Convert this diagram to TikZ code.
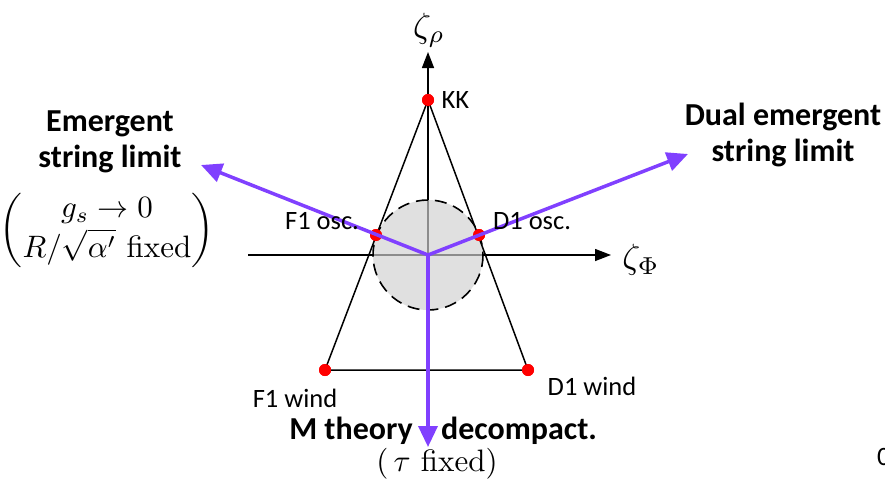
\documentclass[tikz,border=0pt]{standalone}
\usepackage{amsmath}
\usepackage{fontspec}
\setsansfont{Carlito}
\usetikzlibrary{arrows.meta}
\definecolor{limitviolet}{RGB}{128,64,255}
\tikzset{
  dot/.style={circle, fill=red, inner sep=0pt, minimum size=12pt},
  limit/.style={limitviolet, line width=3.5pt, -{Triangle[length=21pt,width=19pt]}},
  axis/.style={line width=1.4pt, -{Triangle[length=16pt,width=12pt]}},
  lbl/.style={font=\sffamily\fontsize{26.5}{30}\selectfont},
  bigtitle/.style={font=\sffamily\bfseries\fontsize{32}{36}\selectfont, align=center, inner sep=0pt},
  mathlbl/.style={scale=3.1, inner sep=0pt},
  axislbl/.style={scale=3.5},
}
\begin{document}
\begin{tikzpicture}[x=1pt, y=-1pt]
    \useasboundingbox (0,0) rectangle (885,479);

    % Ursprung und Punkte
    \coordinate (O) at (428,255);
    \node[dot] (KK) at (428,100) {};
    \node[dot] (F1osc) at (376,235) {};
    \node[dot] (D1osc) at (479,235) {};
    \node[dot] (F1wind) at (325,370) {};
    \node[dot] (D1wind) at (528,370) {};

    % Achsen
    \draw[axis] (248,255) -- (611,255) coordinate (xtip);
    \draw[axis] (O) -- (428,52) coordinate (ytip);
    \node[axislbl] (zPhi) at (641,260) {$\zeta_\Phi$};
    \node[axislbl] (zrho) at (429,30) {$\zeta_\rho$};

    % Kreis
    \draw[line width=1.6pt, dash pattern=on 12pt off 7pt, fill=black!18, fill opacity=0.67] (O) circle[radius=55];

    % Dreieck
    \draw[line width=1.5pt] (KK.center) -- (F1wind.center) -- (D1wind.center) -- cycle;
    \node[dot] at (KK) {};
    \node[dot] at (F1osc) {};
    \node[dot] at (D1osc) {};
    \node[dot] at (F1wind) {};
    \node[dot] at (D1wind) {};

    % Grenzfaelle
    \coordinate (esl) at (201,165);
    \coordinate (desl) at (688,154);
    \coordinate (mth) at (428,447);
    \draw[limit] (O) -- (esl);
    \draw[limit] (O) -- (desl);
    \draw[limit] (O) -- (mth);

    % Beschriftungen
    \node[lbl, anchor=west] (KKlbl) at (438,100) {KK};
    \node[lbl] (F1osclbl) at (322,221) {F1 osc.};
    \node[lbl] (D1osclbl) at (532,221) {D1 osc.};
    \node[lbl] (F1windlbl) at (295,398) {F1 wind};
    \node[lbl] (D1windlbl) at (592,386) {D1 wind};
    \node[bigtitle] (esllbl) at (110,142) {Emergent\\string limit};
    \node[bigtitle] (desllbl) at (783,135) {Dual emergent\\string limit};
    \node[mathlbl] (eslcond) at (107,230)
      {$\begin{pmatrix} g_s\to 0\\ R/\sqrt{\alpha'}\ \text{fixed}\end{pmatrix}$};
    \node[bigtitle] (mthlbl) at (351,431) {M theory};
    \node[bigtitle] (declbl) at (519,431) {decompact.};
    \node[mathlbl] (mthcond) at (437,464) {$(\,\tau\ \text{fixed})$};
    \node[lbl, anchor=west, inner sep=0pt] (cut) at (877,457) {0};
\end{tikzpicture}
\end{document}
